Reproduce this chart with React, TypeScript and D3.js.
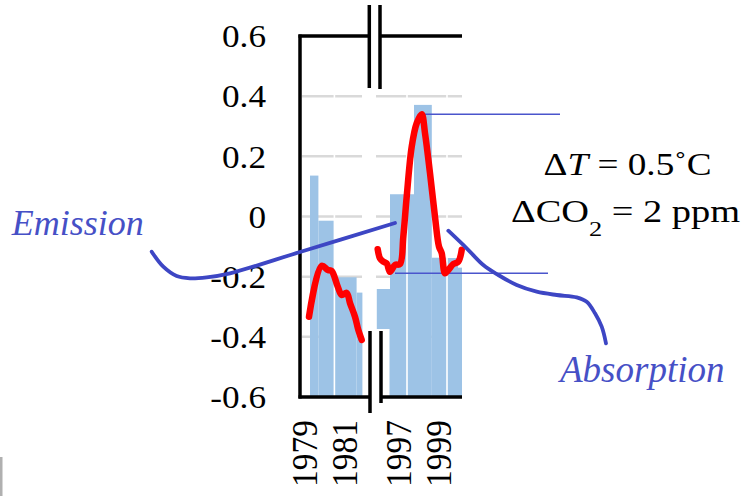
import React from "react";
import * as d3 from "d3";

// ---- data ----
const yTicks = [0.6, 0.4, 0.2, 0, -0.2, -0.4, -0.6];
const yTickLabels = ["0.6", "0.4", "0.2", "0", "-0.2", "-0.4", "-0.6"];
const gridValues = [0.4, 0.2, 0, -0.2, -0.4];

// left segment (1979-1981)
const leftBarStart = [1979.25, 1979.67, 1980.47, 1981.58];
const leftBarEnd = [1979.67, 1980.47, 1981.58, 1981.87];
const leftBarValue = [0.136, -0.014, -0.202, -0.253];
const leftSeparators = [1980.47];
const leftYearLabels = [1979, 1981];
const leftRedYears = [1979.2, 1979.835, 1980.15, 1980.335, 1980.635, 1980.835, 1981.085, 1981.25, 1981.5, 1981.665, 1981.835];
const leftRedValues = [-0.333, -0.164, -0.178, -0.181, -0.233, -0.261, -0.254, -0.288, -0.333, -0.377, -0.41];

// right segment (1997-1999)
const rightBarStart = [1995.99, 1996.65, 1997.85, 1998.74, 1999.5, 2000.05];
const rightBarEnd = [1996.65, 1997.85, 1998.74, 1999.5, 2000.05, 2000.25];
const rightBarValue = [-0.241, 0.074, 0.371, -0.137, -0.138, -0.17];
const rightSeparators = [1997.5, 1999.5];
const rightYearLabels = [1997, 1999];
const rightRedYears = [1996.035, 1996.15, 1996.315, 1996.485, 1996.65, 1996.9, 1997.15, 1997.315, 1997.485, 1997.735, 1997.985, 1998.235, 1998.4, 1998.65, 1998.9, 1999.1, 1999.235, 1999.4, 1999.565, 1999.815, 2000.065, 2000.235];
const rightRedValues = [-0.109, -0.139, -0.15, -0.156, -0.184, -0.161, -0.158, -0.067, 0.066, 0.232, 0.31, 0.34, 0.277, 0.144, -0.001, -0.1, -0.122, -0.189, -0.178, -0.158, -0.15, -0.111];

// annotations (hand-drawn arrows / labels)
const peakYear = 1998.235;
const peakValue = 0.34;
const lowYear = 1996.9;
const lowValue = -0.189;
const emissionCurve: [number, number][] = [
  [151.7, 251.7], [163.3, 266.7], [176.7, 276], [190, 278.3], [206.7, 277.3], [230, 273.3], [300, 252], [395, 223],
];
const absorptionCurve: [number, number][] = [
  [448.3, 230.7], [466.7, 248.3], [483.3, 265], [498.3, 275], [516.7, 285], [536.7, 291.7], [556.7, 295], [576.7, 297.3], [586.7, 301.7], [595, 313.3], [601.7, 326.7], [606, 343.3],
];

const FONT = "'Liberation Serif', 'Times New Roman', Times, serif";
const BAR = "#9dc3e6";
const GRID = "#d9d9d9";
const BLUE = "#3d46c4";
const BLUE_TEXT = "#4650c6";

export default function App() {
  const y = d3.scaleLinear().domain([-0.6, 0.6]).range([397, 36]);
  const xL = d3.scaleLinear().domain([1979, 1981]).range([305, 345]);
  const xR = d3.scaleLinear().domain([1997, 1999]).range([397, 437]);

  const redLine = (xs: d3.ScaleLinear<number, number>) =>
    d3
      .line<[number, number]>()
      .x((d) => xs(d[0]))
      .y((d) => y(d[1]))
      .curve(d3.curveCatmullRom.alpha(0.5));

  const annoLine = d3.line<[number, number]>().curve(d3.curveCatmullRom.alpha(0.5));

  const leftRed = leftRedYears.map((t, i) => [t, leftRedValues[i]] as [number, number]);
  const rightRed = rightRedYears.map((t, i) => [t, rightRedValues[i]] as [number, number]);

  const y0 = y(-0.6);

  return (
    <div style={{ position: "absolute", left: 0, top: 0 }}>
      <svg width={745} height={496} style={{ display: "block", background: "#fff" }}>
        {/* gridlines */}
        {gridValues.map((v) => (
          <g key={v}>
            <line x1={302} x2={362} y1={y(v)} y2={y(v)} stroke={GRID} strokeWidth={2.5} />
            <line x1={376} x2={462} y1={y(v)} y2={y(v)} stroke={GRID} strokeWidth={2.5} />
          </g>
        ))}

        {/* bars left */}
        {leftBarValue.map((v, i) => (
          <rect
            key={"l" + i}
            x={xL(leftBarStart[i])}
            width={xL(leftBarEnd[i]) - xL(leftBarStart[i])}
            y={y(v)}
            height={y0 - y(v)}
            fill={BAR}
          />
        ))}
        {/* bars right */}
        {rightBarValue.map((v, i) => (
          <rect
            key={"r" + i}
            x={xR(rightBarStart[i])}
            width={xR(rightBarEnd[i]) - xR(rightBarStart[i])}
            y={y(v)}
            height={y0 - y(v)}
            fill={BAR}
          />
        ))}
        {leftSeparators.map((s) => (
          <line key={"ls" + s} x1={xL(s)} x2={xL(s)} y1={30} y2={y0} stroke="#fff" strokeWidth={1.6} />
        ))}
        {rightSeparators.map((s) => (
          <line key={"rs" + s} x1={xR(s)} x2={xR(s)} y1={30} y2={y0} stroke="#fff" strokeWidth={1.6} />
        ))}

        {/* white patch behind lower break */}
        <rect x={363} y={329} width={26.5} height={72} fill="#fff" />

        {/* thin blue guide lines */}
        <line x1={xR(peakYear)} x2={560} y1={y(peakValue)} y2={y(peakValue)} stroke="#4a55cc" strokeWidth={1.5} />
        <line x1={xR(lowYear)} x2={548} y1={y(lowValue)} y2={y(lowValue)} stroke="#4a55cc" strokeWidth={1.5} />

        {/* red lines */}
        <path d={redLine(xL)(leftRed) || ""} fill="none" stroke="#ff0000" strokeWidth={6.5} strokeLinejoin="round" strokeLinecap="round" />
        <path d={redLine(xR)(rightRed) || ""} fill="none" stroke="#ff0000" strokeWidth={6.5} strokeLinejoin="round" strokeLinecap="round" />

        {/* axes */}
        <line x1={300} x2={300} y1={34.5} y2={398.5} stroke="#000" strokeWidth={3.5} />
        <line x1={298.5} x2={369.3} y1={36} y2={36} stroke="#000" strokeWidth={3.5} />
        <line x1={380} x2={462} y1={36} y2={36} stroke="#000" strokeWidth={3.5} />
        <line x1={298.5} x2={370} y1={397} y2={397} stroke="#000" strokeWidth={3.5} />
        <line x1={381} x2={462} y1={397} y2={397} stroke="#000" strokeWidth={3.5} />
        {/* break marks */}
        <line x1={369.3} x2={369.3} y1={5} y2={88} stroke="#000" strokeWidth={3.5} />
        <line x1={380} x2={380} y1={5} y2={89} stroke="#000" strokeWidth={3.5} />
        <line x1={370} x2={370} y1={331} y2={413} stroke="#000" strokeWidth={3.5} />
        <line x1={381} x2={381} y1={331} y2={403} stroke="#000" strokeWidth={3.5} />

        {/* y tick labels */}
        {yTicks.map((v, i) => (
          <text
            key={"yt" + v}
            transform={`translate(266,${y(v)}) scale(1.1,1)`}
            textAnchor="end"
            dy="0.35em"
            fontFamily={FONT}
            fontSize={32}
            fill="#000"
          >
            {yTickLabels[i]}
          </text>
        ))}

        {/* x labels */}
        {leftYearLabels.map((t) => (
          <text
            key={"xl" + t}
            transform={`translate(${xL(t) - 1},420) scale(1.09,1) rotate(-90)`}
            textAnchor="end"
            dy="0.35em"
            fontFamily={FONT}
            fontSize={33.5}
            fill="#000"
          >
            {t}
          </text>
        ))}
        {rightYearLabels.map((t) => (
          <text
            key={"xr" + t}
            transform={`translate(${xR(t) + 1},420) scale(1.09,1) rotate(-90)`}
            textAnchor="end"
            dy="0.35em"
            fontFamily={FONT}
            fontSize={33.5}
            fill="#000"
          >
            {t}
          </text>
        ))}

        {/* annotation curves */}
        <path d={annoLine(emissionCurve) || ""} fill="none" stroke={BLUE} strokeWidth={3.8} strokeLinecap="round" />
        <path d={annoLine(absorptionCurve) || ""} fill="none" stroke={BLUE} strokeWidth={3.8} strokeLinecap="round" />

        {/* annotation texts */}
        <text transform="translate(627.5,175) scale(1.2,1)" textAnchor="middle" fontFamily={FONT} fontSize={31} fill="#000">
          Δ<tspan fontStyle="italic">T</tspan> = 0.5˚C
        </text>
        <text transform="translate(625.5,222) scale(1.2,1)" textAnchor="middle" fontFamily={FONT} fontSize={32} fill="#000">
          ΔCO<tspan fontSize={22} dy={14}>2</tspan>
          <tspan dy={-14}> = 2 ppm</tspan>
        </text>
        <text x={11.7} y={235} fontFamily={FONT} fontStyle="italic" fontSize={36} fill={BLUE_TEXT}>
          Emission
        </text>
        <text x={560} y={382} fontFamily={FONT} fontStyle="italic" fontSize={37} fill={BLUE_TEXT}>
          Absorption
        </text>

        {/* faint edge mark */}
        <rect x={0} y={457} width={2.5} height={39} fill="#b0b0b0" />
      </svg>
    </div>
  );
}
